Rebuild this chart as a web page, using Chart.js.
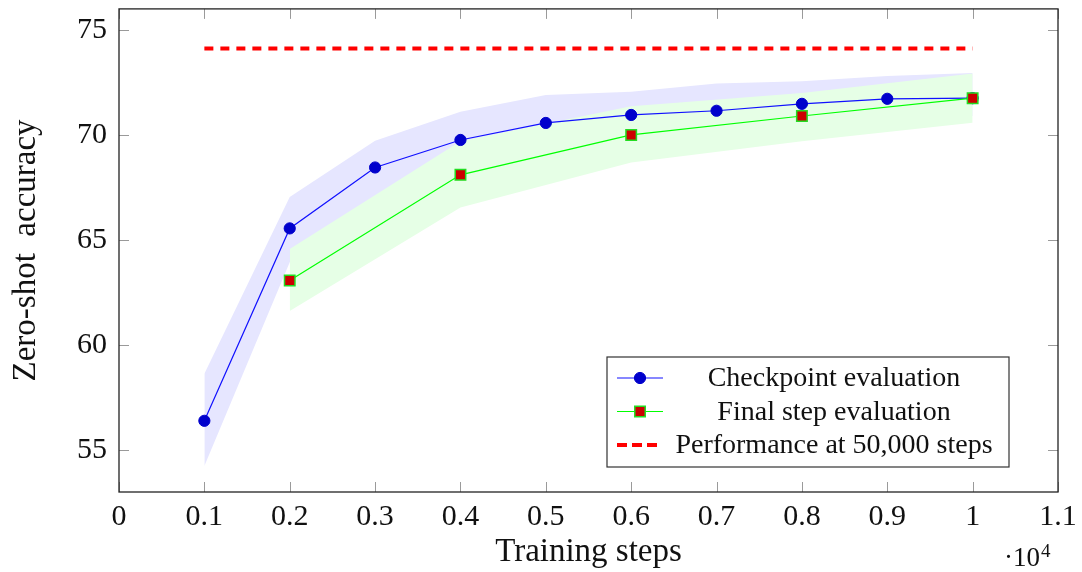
<!DOCTYPE html>
<html lang="en">
<head>
  <meta charset="UTF-8">
  <title>Zero-shot accuracy vs training steps</title>
  <script src="https://cdn.jsdelivr.net/npm/chart.js@4.4.1/dist/chart.umd.min.js"></script>
  <style>
  body {
    margin: 0;
    padding: 0;
    background: #fff;
  }
  .chart-container {
    position: relative;
    width: 1082px;
    height: 572px;
  }
  </style>
</head>
<body>
<div class="chart-container">
  <canvas id="accChart"></canvas>
</div>

<script>
  // values, x in training steps
  var steps = [1000, 2000, 3000, 4000, 5000, 6000, 7000, 8000, 9000, 10000];
  var checkpointAcc  = [56.39, 65.55, 68.45, 69.76, 70.57, 70.95, 71.15, 71.48, 71.72, 71.75];
  var checkpointHigh = [58.63, 67.05, 69.72, 71.10, 71.90, 72.05, 72.45, 72.55, 72.80, 72.95];
  var checkpointLow  = [54.24, 63.94, 67.00, 68.50, 69.30, 69.80, 70.20, 70.50, 70.80, 70.90];

  var finalSteps = [2000, 4000, 6000, 8000, 10000];
  var finalAcc  = [63.07, 68.10, 70.00, 70.90, 71.75];
  var finalHigh = [64.57, 69.70, 71.37, 72.00, 72.92];
  var finalLow  = [61.62, 66.55, 68.69, 69.70, 70.58];

  var baselineSteps = [1000, 10000];
  var baselineAcc = [74.12, 74.12];

  var accTicks = [55, 60, 65, 70, 75];

  var FONT = "'Liberation Serif', 'Times New Roman', serif";

  function pts(xs, ys) {
    return xs.map(function(x, i) { return {x: x, y: ys[i]}; });
  }

  // inward ticks on all four sides + black frame
  var frameTicks = {
    id: 'frameTicks',
    afterDatasetsDraw: function(chart) {
      var ctx = chart.ctx, a = chart.chartArea;
      var xs = chart.scales.x, ys = chart.scales.y;
      var len = 10;
      ctx.save();
      ctx.strokeStyle = '#9a9a9a';
      ctx.lineWidth = 1;
      ctx.beginPath();
      xs.ticks.forEach(function(t) {
        var px = Math.round(xs.getPixelForValue(t.value)) + 0.5;
        ctx.moveTo(px, a.bottom); ctx.lineTo(px, a.bottom - len);
        ctx.moveTo(px, a.top); ctx.lineTo(px, a.top + len);
      });
      ys.ticks.forEach(function(t) {
        var py = Math.round(ys.getPixelForValue(t.value)) + 0.5;
        ctx.moveTo(a.left, py); ctx.lineTo(a.left + len, py);
        ctx.moveTo(a.right, py); ctx.lineTo(a.right - len, py);
      });
      ctx.stroke();
      ctx.strokeStyle = '#222';
      ctx.lineWidth = 1.3;
      ctx.strokeRect(a.left, a.top, a.right - a.left, a.bottom - a.top);

      // x10^4 multiplier under the axis
      ctx.fillStyle = '#111';
      ctx.textBaseline = 'alphabetic';
      ctx.textAlign = 'right';
      ctx.font = '27px ' + FONT;
      ctx.fillText('\u00b710', 1040, 566);
      ctx.textAlign = 'left';
      ctx.font = '19px ' + FONT;
      ctx.fillText('4', 1041, 557);
      ctx.restore();
    }
  };

  // legend box in the lower right of the plot
  var boxLegend = {
    id: 'boxLegend',
    afterDraw: function(chart) {
      var ctx = chart.ctx, a = chart.chartArea;
      var items = chart.data.datasets.filter(function(ds) { return ds.inLegend; });
      items.sort(function(p, q) { return p.legendRow - q.legendRow; });
      var x0 = a.right - 451, x1 = a.right - 49;
      var y0 = a.bottom - 135, y1 = a.bottom - 25;
      ctx.save();
      ctx.fillStyle = '#fff';
      ctx.fillRect(x0, y0, x1 - x0, y1 - y0);
      ctx.strokeStyle = '#333';
      ctx.lineWidth = 1.2;
      ctx.strokeRect(x0, y0, x1 - x0, y1 - y0);
      items.forEach(function(ds, i) {
        var y = y0 + 21 + i * 33.5;
        var sx0 = x0 + 10, sx1 = x0 + 56, cx = (sx0 + sx1) / 2;
        ctx.beginPath();
        ctx.strokeStyle = ds.borderColor;
        ctx.lineWidth = ds.borderWidth;
        if (ds.borderDash) {
          ctx.setLineDash([10, 5]);
          ctx.moveTo(sx0, y); ctx.lineTo(sx1 - 4, y);
        } else {
          ctx.setLineDash([]);
          ctx.moveTo(sx0, y); ctx.lineTo(sx1, y);
        }
        ctx.stroke();
        ctx.setLineDash([]);
        if (ds.pointRadius > 0) {
          ctx.fillStyle = ds.pointBackgroundColor;
          ctx.strokeStyle = ds.pointBorderColor;
          ctx.lineWidth = ds.pointBorderWidth;
          ctx.beginPath();
          if (ds.pointStyle === 'rect') {
            var s = ds.pointRadius * Math.SQRT1_2;
            ctx.rect(cx - s, y - s, 2 * s, 2 * s);
          } else {
            ctx.arc(cx, y, ds.pointRadius, 0, Math.PI * 2);
          }
          ctx.fill();
          ctx.stroke();
        }
        ctx.fillStyle = '#111';
        ctx.font = '28px ' + FONT;
        ctx.textAlign = 'center';
        ctx.textBaseline = 'middle';
        ctx.fillText(ds.label, x0 + 227, y + 1);
      });
      ctx.restore();
    }
  };

  var datasets = [
    {
      label: 'Final step evaluation',
      data: pts(finalSteps, finalAcc),
      borderColor: '#00ff00',
      borderWidth: 1.2,
      pointStyle: 'rect',
      pointRadius: 7.4,
      pointBackgroundColor: '#cc0000',
      pointBorderColor: '#22dd22',
      pointBorderWidth: 1.5,
      fill: false,
      inLegend: true,
      legendRow: 2
    },
    {
      label: 'Checkpoint evaluation',
      data: pts(steps, checkpointAcc),
      borderColor: '#1010ff',
      borderWidth: 1.2,
      pointStyle: 'circle',
      pointRadius: 5.6,
      pointBackgroundColor: '#0000cc',
      pointBorderColor: '#0000cc',
      pointBorderWidth: 1,
      fill: false,
      inLegend: true,
      legendRow: 1
    },
    {
      label: 'Performance at 50,000 steps',
      data: pts(baselineSteps, baselineAcc),
      borderColor: '#ff0000',
      borderWidth: 4,
      borderDash: [9, 7],
      pointRadius: 0,
      fill: false,
      inLegend: true,
      legendRow: 3
    },
    {
      label: 'final high',
      data: pts(finalSteps, finalHigh),
      borderWidth: 0,
      borderColor: 'rgba(0,0,0,0)',
      pointRadius: 0,
      backgroundColor: '#e6ffe6',
      fill: '+1'
    },
    {
      label: 'final low',
      data: pts(finalSteps, finalLow),
      borderWidth: 0,
      borderColor: 'rgba(0,0,0,0)',
      pointRadius: 0,
      fill: false
    },
    {
      label: 'checkpoint high',
      data: pts(steps, checkpointHigh),
      borderWidth: 0,
      borderColor: 'rgba(0,0,0,0)',
      pointRadius: 0,
      backgroundColor: '#e6e6ff',
      fill: '+1'
    },
    {
      label: 'checkpoint low',
      data: pts(steps, checkpointLow),
      borderWidth: 0,
      borderColor: 'rgba(0,0,0,0)',
      pointRadius: 0,
      fill: false
    }
  ];

  var options = {
    responsive: true,
    maintainAspectRatio: false,
    animation: false,
    layout: {
      padding: {top: 7, right: 24, left: 0, bottom: 0}
    },
    elements: {
      line: {tension: 0}
    },
    plugins: {
      legend: {display: false},
      tooltip: {enabled: false}
    },
    scales: {
      x: {
        type: 'linear',
        min: 0,
        max: 11000,
        grid: {display: false, drawTicks: false},
        border: {display: false},
        ticks: {
          stepSize: 1000,
          autoSkip: false,
          maxRotation: 0,
          padding: 7,
          color: '#111',
          font: {family: FONT, size: 30},
          callback: function(v) { return String(v / 10000); }
        },
        title: {
          display: true,
          text: 'Training steps',
          color: '#111',
          font: {family: FONT, size: 33, lineHeight: 1},
          padding: {top: 0, bottom: 3}
        },
        afterFit: function(scale) {
          scale.height = 80;
          scale.paddingLeft = 0;
          scale.paddingRight = 0;
        }
      },
      y: {
        type: 'linear',
        min: 53,
        max: 76,
        grid: {display: false, drawTicks: false},
        border: {display: false},
        afterBuildTicks: function(scale) {
          scale.ticks = accTicks.map(function(v) { return {value: v}; });
        },
        ticks: {
          padding: 12,
          color: '#111',
          font: {family: FONT, size: 30}
        },
        title: {
          display: true,
          text: 'Zero-shot  accuracy',
          color: '#111',
          font: {family: FONT, size: 33, lineHeight: 1},
          padding: {top: 10, bottom: 0}
        },
        afterFit: function(scale) {
          scale.width = 119;
          scale.paddingTop = 0;
          scale.paddingBottom = 0;
        }
      }
    }
  };

  var ctx = document.getElementById('accChart');
  var accChart = new Chart(ctx, {
    type: 'line',
    data: {datasets: datasets},
    options: options,
    plugins: [frameTicks, boxLegend]
  });
</script>
</body>
</html>
